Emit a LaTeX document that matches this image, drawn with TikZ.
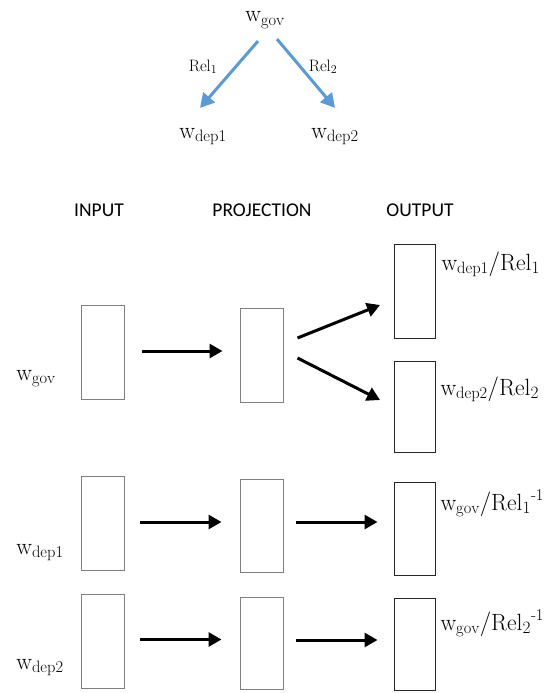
\documentclass[tikz,border=0pt]{standalone}
\usepackage{amsmath}
\usepackage{fontspec}
\usepackage{tikz}
\usetikzlibrary{arrows.meta,positioning,calc}
\newfontfamily\headfont{Carlito}
\definecolor{relblue}{HTML}{5B9BD5}
\definecolor{boxgray}{HTML}{808080}

\begin{document}
\begin{tikzpicture}[
				x=1pt,y=-1pt,
				every node/.style={inner sep=0pt,outer sep=0pt},
				word/.style={font=\fontsize{23.5}{28}\selectfont},
				rellbl/.style={font=\fontsize{16.5}{19}\selectfont},
				head/.style={font=\headfont\fontsize{19.5}{23}\selectfont},
				vec/.style={draw=boxgray,line width=0.9pt,minimum width=43pt,minimum height=94pt},
				outvec/.style={draw=black!85,line width=0.9pt,minimum width=41pt,minimum height=94pt},
				flow/.style={-{Triangle[length=13pt,width=14pt]},line width=3pt},
				relarr/.style={-{Triangle[length=14pt,width=15pt]},line width=3pt,relblue}]

				\useasboundingbox (0,0) rectangle (559,693);

				% dependency tree
				\node[word,anchor=base] (gov) at (265,22) {$\mathrm{w}_{\mathrm{gov}}$};
				\node[word,anchor=base] (dep1) at (203,138) {$\mathrm{w}_{\mathrm{dep1}}$};
				\node[word,anchor=base] (dep2) at (335,138) {$\mathrm{w}_{\mathrm{dep2}}$};
				\node[rellbl,anchor=base] (r1) at (203,71) {Rel$_1$};
				\node[rellbl,anchor=base] (r2) at (323,71) {Rel$_2$};

				\draw[relarr] ([xshift=-7pt,yshift=-12pt]gov.south) -- ([xshift=-3pt,yshift=20pt]dep1.north);
				\draw[relarr] ([xshift=12pt,yshift=-10pt]gov.south) -- ([yshift=20pt]dep2.north);

				% column heads
				\node[head,anchor=base] (hin) at (99,216) {INPUT};
				\node[head,anchor=base] (hproj) at (262,216) {PROJECTION};
				\node[head,anchor=base] (hout) at (420,216) {OUTPUT};

				% governor row
				\node[vec] (gin) at (103,352) {};
				\node[vec] (gproj) at (262,355) {};
				\node[outvec] (gout1) at (415,291) {};
				\node[outvec,minimum height=91pt] (gout2) at (415,406.5) {};

				% dependent rows
				\node[vec] (ain) at (102.5,523.5) {};
				\node[vec,minimum height=93pt] (aproj) at (262,525.5) {};
				\node[outvec,minimum height=93pt] (aout) at (415,528.5) {};
				\node[vec] (bin) at (102.5,641) {};
				\node[vec,minimum height=92pt] (bproj) at (262,643.5) {};
				\node[outvec,minimum height=92pt] (bout) at (415,644) {};

				% word labels
				\node[word,anchor=base] (lgov) at (36,380) {$\mathrm{w}_{\mathrm{gov}}$};
				\node[word,anchor=base] (ldep1) at (40,554) {$\mathrm{w}_{\mathrm{dep1}}$};
				\node[word,anchor=base] (ldep2) at (40,669) {$\mathrm{w}_{\mathrm{dep2}}$};

				\node[word,anchor=base west] (o1) at ([xshift=6pt,yshift=-26pt]gout1.north east)
				{$\mathrm{w}_{\mathrm{dep1}}/\mathrm{Rel}_1$};
				\node[word,anchor=base west] (o2) at ([xshift=5pt,yshift=-34pt]gout2.north east)
				{$\mathrm{w}_{\mathrm{dep2}}/\mathrm{Rel}_2$};
				\node[word,anchor=base west] (o3) at ([xshift=5pt,yshift=-28pt]aout.north east)
				{$\mathrm{w}_{\mathrm{gov}}/\mathrm{Rel}_1{}^{\text{-1}}$};
				\node[word,anchor=base west] (o4) at ([xshift=5pt,yshift=-32pt]bout.north east)
				{$\mathrm{w}_{\mathrm{gov}}/\mathrm{Rel}_2{}^{\text{-1}}$};

				% connections
				\draw[flow] ([xshift=17pt,yshift=1pt]gin.east) -- ([xshift=-18pt,yshift=1pt]gin.east -| gproj.west);
				\draw[flow] ([xshift=14pt,yshift=17pt]gproj.east) -- ([xshift=-14.5pt,yshift=-14pt]gout1.west);
				\draw[flow] ([xshift=14pt,yshift=-3pt]gproj.east) -- ([xshift=-14.5pt,yshift=6.5pt]gout2.west);

				\draw[flow] ([xshift=16pt,yshift=1.5pt]ain.east) -- ([xshift=-19pt,yshift=1.5pt]ain.east -| aproj.west);
				\draw[flow] ([xshift=12pt,yshift=3.5pt]aproj.east) -- ([xshift=-17pt,yshift=3.5pt]aproj.east -| aout.west);
				\draw[flow] ([xshift=16pt,yshift=1.5pt]bin.east) -- ([xshift=-19pt,yshift=1.5pt]bin.east -| bproj.west);
				\draw[flow] ([xshift=12pt,yshift=3.5pt]bproj.east) -- ([xshift=-17pt,yshift=3.5pt]bproj.east -| bout.west);
			\end{tikzpicture}
\end{document}
